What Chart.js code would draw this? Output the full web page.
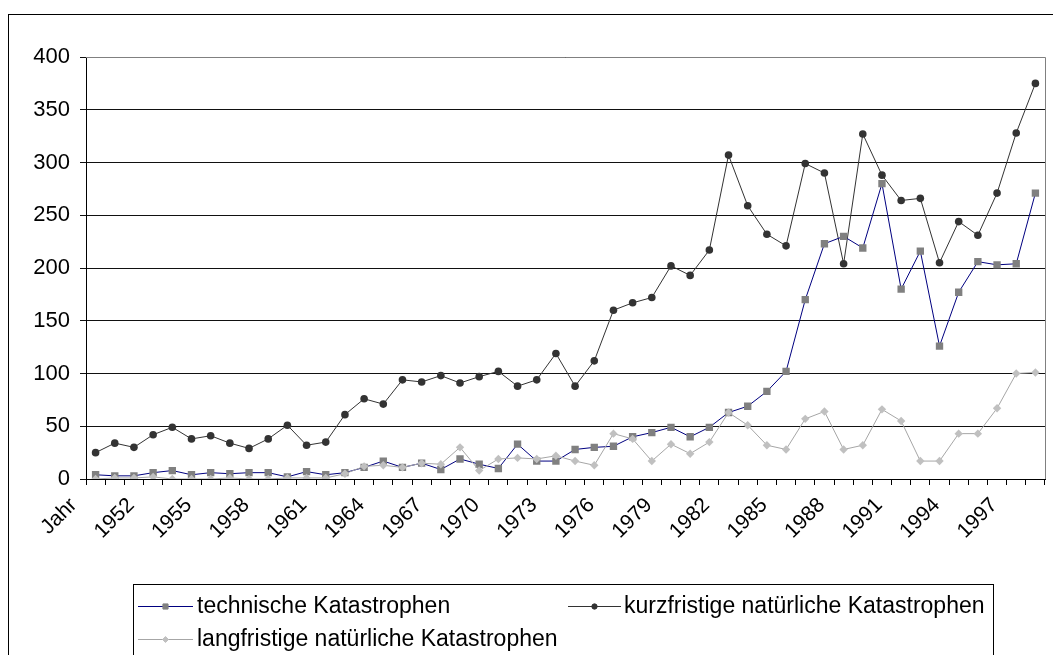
<!DOCTYPE html>
<html>
<head>
<meta charset="utf-8">
<script src="https://cdn.jsdelivr.net/npm/chart.js@4"></script>
<style>
  body { margin: 0; background: #fff; }
  #wrap { width: 1053px; height: 655px; position: relative; }
</style>
</head>
<body>
<div id="wrap"><canvas id="chart" width="1053" height="655"></canvas></div>
<script>
// categories (first one is the header cell "Jahr")
const years = ['Jahr'];
for (let y = 1950; y <= 1998; y++) years.push(String(y));

const technische = [4, 3, 3, 6, 8, 4, 6, 5, 6, 6,
  2, 7, 4, 6, 11, 17, 11, 15, 9, 19,
  14, 10, 33, 17, 17, 28, 30, 31, 40, 44,
  49, 40, 49, 63, 69, 83, 102, 170, 223, 230,
  219, 280, 180, 216, 126, 177, 206, 203, 204, 271];

const kurzfristige = [25, 34, 30, 42, 49, 38, 41, 34, 29, 38,
  51, 32, 35, 61, 76, 71, 94, 92, 98, 91,
  97, 102, 88, 94, 119, 88, 112, 160, 167, 172,
  202, 193, 217, 307, 259, 232, 221, 299, 290, 204,
  327, 288, 264, 266, 205, 244, 231, 271, 328, 375];

const langfristige = [0, 1, 1, 2, 0, 0, 0, 1, 0, 0,
  1, 1, 1, 5, 12, 13, 11, 15, 14, 30,
  8, 19, 20, 19, 22, 17, 13, 43, 38, 17,
  33, 24, 35, 63, 51, 32, 28, 57, 64, 28,
  32, 66, 55, 17, 17, 43, 43, 67, 100, 101];

const FONT = "'Liberation Sans', Arial, sans-serif";

// outer frame, grey plot border and the boxed legend
const framePlugin = {
  id: 'frame',
  beforeDraw(chart) {
    const ctx = chart.ctx;
    ctx.save();
    ctx.fillStyle = '#fff';
    ctx.fillRect(0, 0, chart.width, chart.height);
    ctx.strokeStyle = '#000';
    ctx.lineWidth = 1;
    ctx.strokeRect(8.5, 14.5, 1100, 700);
    ctx.restore();
  },
  afterDraw(chart) {
    const ctx = chart.ctx;
    const a = chart.chartArea;
    ctx.save();
    ctx.strokeStyle = '#808080';
    ctx.lineWidth = 1;
    ctx.beginPath();
    ctx.moveTo(a.left, Math.round(a.top) + 0.5);
    ctx.lineTo(Math.round(a.right) + 0.5, Math.round(a.top) + 0.5);
    ctx.lineTo(Math.round(a.right) + 0.5, a.bottom);
    ctx.stroke();

    // legend
    ctx.strokeStyle = '#000';
    ctx.strokeRect(133.5, 584.5, 860, 120);
    const items = [
      { ds: 0, x1: 138, x2: 193, tx: 197, y: 606 },
      { ds: 1, x1: 568, x2: 621, tx: 624, y: 606 },
      { ds: 2, x1: 138, x2: 193, tx: 197, y: 639 }
    ];
    ctx.font = '23px ' + FONT;
    ctx.textBaseline = 'middle';
    items.forEach(it => {
      const d = chart.data.datasets[it.ds];
      ctx.strokeStyle = d.borderColor;
      ctx.lineWidth = 1;
      ctx.beginPath();
      ctx.moveTo(it.x1, it.y + 0.5);
      ctx.lineTo(it.x2, it.y + 0.5);
      ctx.stroke();
      ctx.fillStyle = d.pointBackgroundColor;
      ctx.strokeStyle = d.pointBorderColor;
      Chart.helpers.drawPoint(ctx, {
        pointStyle: d.pointStyle, radius: d.pointRadius * 0.7, borderWidth: 1, rotation: 0
      }, (it.x1 + it.x2) / 2, it.y + 0.5);
      ctx.fillStyle = '#000';
      ctx.fillText(d.label, it.tx, it.y + 1);
    });
    ctx.restore();
  }
};

new Chart(document.getElementById('chart'), {
  type: 'line',
  data: {
    labels: years,
    datasets: [
      {
        label: 'technische Katastrophen',
        data: technische,
        borderColor: '#000080',
        borderWidth: 1,
        pointStyle: 'rect',
        pointRadius: 5.2,
        pointBackgroundColor: '#808080',
        pointBorderColor: '#808080',
        pointBorderWidth: 0,
        order: 2
      },
      {
        label: 'kurzfristige natürliche Katastrophen',
        data: kurzfristige,
        borderColor: '#333333',
        borderWidth: 1,
        pointStyle: 'circle',
        pointRadius: 3.8,
        pointBackgroundColor: '#333333',
        pointBorderColor: '#333333',
        pointBorderWidth: 0,
        order: 3
      },
      {
        label: 'langfristige natürliche Katastrophen',
        data: langfristige,
        borderColor: '#a6a6a6',
        borderWidth: 1,
        pointStyle: 'rectRot',
        pointRadius: 4.2,
        pointBackgroundColor: '#c0c0c0',
        pointBorderColor: '#c0c0c0',
        pointBorderWidth: 0,
        order: 1
      }
    ]
  },
  options: {
    responsive: false,
    animation: false,
    events: [],
    layout: { padding: { top: 57, right: 8, left: 0, bottom: 0 } },
    plugins: {
      legend: { display: false },
      tooltip: { enabled: false }
    },
    scales: {
      x: {
        offset: true,
        grid: { offset: true, drawOnChartArea: false, tickLength: 6, color: '#000' },
        border: { color: '#000', width: 1 },
        ticks: {
          autoSkip: false,
          maxRotation: 45,
          minRotation: 45,
          padding: 8,
          labelOffset: -22,
          color: '#000',
          font: { family: FONT, size: 21 },
          callback: (v, i) => (i % 3 === 0 ? years[i] : '')
        },
        afterFit(scale) {
          scale.height = 176;
          scale.paddingLeft = 0;
          scale.paddingRight = 0;
        }
      },
      y: {
        min: 0,
        max: 400,
        grid: { color: '#111', tickLength: 6 },
        border: { color: '#000', width: 1 },
        ticks: {
          stepSize: 50,
          padding: 10,
          color: '#000',
          font: { family: FONT, size: 22 }
        },
        afterFit(scale) { scale.width = 86; }
      }
    }
  },
  plugins: [framePlugin]
});
</script>
</body>
</html>
